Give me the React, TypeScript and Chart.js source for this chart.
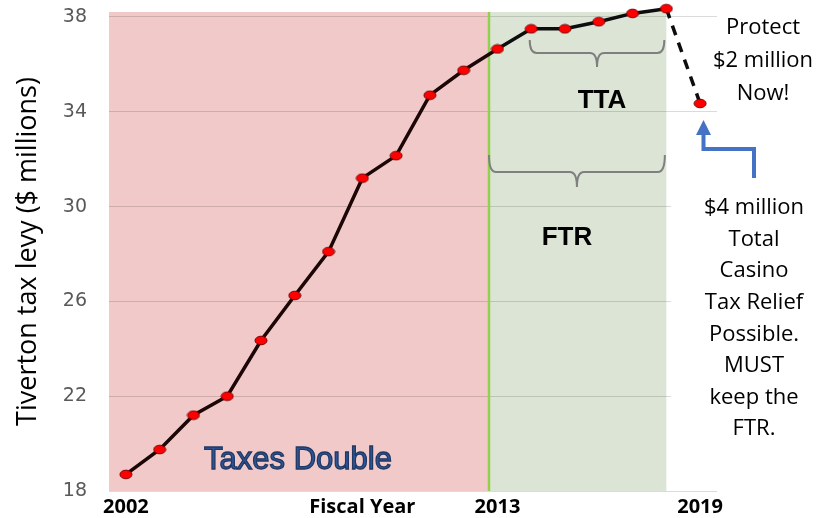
import React, { useEffect, useRef } from 'react';
import { Chart, registerables } from 'chart.js';

Chart.register(...registerables);

const years = ['2002', '2003', '2004', '2005', '2006', '2007', '2008', '2009', '2010', '2011', '2012', '2013', '2014', '2015', '2016', '2017', '2018', '2019'];
const levy = [18.7, 19.75, 21.2, 22.0, 24.35, 26.25, 28.1, 31.2, 32.15, 34.7, 35.75, 36.65, 37.5, 37.5, 37.8, 38.15, 38.35, 34.35];
const xTickLabels = ['2002', '', '', '', '', '', '', 'Fiscal Year', '', '', '', '2013', '', '', '', '', '', '2019'];
const yTicks = [18, 22, 26, 30, 34, 38];
const yMin = 18;
const yMax = 38.21;
const ftrStart = 10.75;
const ftrEnd = 16;
const ttaStart = 12;
const protectLines = ['Protect', '$2 million', 'Now!'];
const reliefLines = ['$4 million', 'Total', 'Casino', 'Tax Relief', 'Possible.', 'MUST', 'keep the', 'FTR.'];

function drawBrace(ctx: CanvasRenderingContext2D, x0: number, x1: number, yTop: number, yMid: number, yTip: number) {
  const cx = (x0 + x1) / 2;
  const r = 7;
  ctx.beginPath();
  ctx.moveTo(x0, yTop);
  ctx.quadraticCurveTo(x0, yMid, x0 + r, yMid);
  ctx.lineTo(cx - r, yMid);
  ctx.quadraticCurveTo(cx, yMid, cx, yTip);
  ctx.quadraticCurveTo(cx, yMid, cx + r, yMid);
  ctx.lineTo(x1 - r, yMid);
  ctx.quadraticCurveTo(x1, yMid, x1, yTop);
  ctx.stroke();
}

const overlay = {
  id: 'overlay',
  beforeDraw(chart: any) {
    const { ctx, chartArea, scales } = chart;
    const x = scales.x;
    const xb = x.getPixelForValue(ftrStart);
    const xe = x.getPixelForValue(ftrEnd);
    ctx.save();
    ctx.fillStyle = '#f1c9c9';
    ctx.fillRect(chartArea.left, chartArea.top, xb - chartArea.left, chartArea.bottom - chartArea.top);
    ctx.fillStyle = '#dbe4d5';
    ctx.fillRect(xb, chartArea.top, xe - xb, chartArea.bottom - chartArea.top);
    ctx.restore();
  },
  beforeDatasetsDraw(chart: any) {
    const { ctx, chartArea, scales } = chart;
    const x = scales.x;
    const xb = x.getPixelForValue(ftrStart);
    ctx.save();
    ctx.fillStyle = '#ffffff';
    const wx = x.getPixelForValue(16.14);
    ctx.fillRect(wx, 150, chartArea.right + 2 - wx, 335);
    ctx.strokeStyle = '#92d050';
    ctx.lineWidth = 2.5;
    ctx.beginPath();
    ctx.moveTo(xb, chartArea.top);
    ctx.lineTo(xb, chartArea.bottom);
    ctx.stroke();
    ctx.restore();
  },
  afterDraw(chart: any) {
    const { ctx, scales } = chart;
    const x = scales.x;
    ctx.save();
    // braces
    ctx.strokeStyle = '#7f7f7f';
    ctx.lineWidth = 2;
    drawBrace(ctx, x.getPixelForValue(ttaStart) - 1.5, x.getPixelForValue(ftrEnd) - 2, 40, 53, 67);
    drawBrace(ctx, x.getPixelForValue(ftrStart), x.getPixelForValue(ftrEnd) - 1.5, 155, 172, 187);
    // bold labels
    ctx.fillStyle = '#000';
    ctx.textAlign = 'center';
    ctx.textBaseline = 'middle';
    ctx.font = 'bold 26px "Liberation Sans", Arial, sans-serif';
    ctx.fillText('TTA', 602, 101);
    ctx.fillText('FTR', 567, 238);
    // Taxes Double
    ctx.font = '31px "Liberation Sans", Arial, sans-serif';
    ctx.textBaseline = 'alphabetic';
    ctx.fillStyle = '#2f5597';
    ctx.strokeStyle = '#1f3864';
    ctx.lineWidth = 1.3;
    ctx.fillText('Taxes Double', 298, 469);
    ctx.strokeText('Taxes Double', 298, 469);
    // right side text
    ctx.fillStyle = '#000';
    ctx.textBaseline = 'middle';
    ctx.font = '22px "Open Sans", sans-serif';
    protectLines.forEach((t, i) => ctx.fillText(t, 763, 28 + i * 33));
    reliefLines.forEach((t, i) => ctx.fillText(t, 754, 208 + i * 31.6));
    // blue arrow
    ctx.strokeStyle = '#4472c4';
    ctx.fillStyle = '#4472c4';
    ctx.lineWidth = 4;
    ctx.lineJoin = 'miter';
    ctx.beginPath();
    ctx.moveTo(754, 178);
    ctx.lineTo(754, 149);
    ctx.lineTo(703.5, 149);
    ctx.lineTo(703.5, 133);
    ctx.stroke();
    ctx.beginPath();
    ctx.moveTo(703.5, 120);
    ctx.lineTo(696, 135);
    ctx.lineTo(711, 135);
    ctx.closePath();
    ctx.fill();
    ctx.restore();
  },
};

export default function App() {
  const ref = useRef<HTMLCanvasElement>(null);
  useEffect(() => {
    document.body.style.margin = '0';
    const dot = document.createElement('canvas');
    dot.width = 14;
    dot.height = 11;
    const d = dot.getContext('2d')!;
    d.beginPath();
    d.ellipse(7, 5.5, 6, 4.3, 0, 0, Math.PI * 2);
    d.fillStyle = '#ff0000';
    d.fill();
    d.lineWidth = 1;
    d.strokeStyle = '#7a0000';
    d.stroke();

    const chart = new Chart(ref.current!, {
      type: 'line',
      data: {
        labels: years,
        datasets: [
          {
            data: levy,
            borderColor: '#1c0606',
            borderWidth: 3.5,
            pointStyle: dot as any,
            pointRadius: 6,
            clip: false as any,
            tension: 0,
            segment: {
              borderDash: (c: any) => (c.p1DataIndex === levy.length - 1 ? [10, 8] : undefined),
              borderColor: (c: any) => (c.p1DataIndex >= 12 ? '#0d0d0d' : undefined),
            },
          },
        ],
      },
      plugins: [overlay],
      options: {
        animation: false,
        responsive: false,
        devicePixelRatio: 1,
        layout: { padding: { top: 12, right: 108, bottom: 0, left: 0 } },
        plugins: { legend: { display: false }, tooltip: { enabled: false } },
        scales: {
          x: {
            type: 'category',
            offset: true,
            grid: { display: false, drawTicks: false },
            border: { display: false },
            ticks: {
              autoSkip: false,
              maxRotation: 0,
              minRotation: 0,
              padding: 4,
              color: '#000',
              font: { family: '"Open Sans", sans-serif', size: 20, weight: 'bold' },
              callback: (_v: any, i: number) => xTickLabels[i],
            },
            afterFit: (s: any) => {
              s.height = 27;
            },
          },
          y: {
            min: yMin,
            max: yMax,
            afterBuildTicks: (s: any) => {
              s.ticks = yTicks.map((v) => ({ value: v }));
            },
            grid: {
              color: 'rgba(0,0,0,0.14)',
              lineWidth: 1,
              drawTicks: true,
              tickLength: 22,
              tickColor: 'rgba(0,0,0,0)',
            },
            border: { display: false },
            ticks: {
              padding: 0,
              color: '#595959',
              font: { family: '"DejaVu Sans", sans-serif', size: 19 },
            },
            title: {
              display: true,
              text: 'Tiverton tax levy ($ millions)',
              color: '#000',
              font: { family: '"Open Sans", sans-serif', size: 27 },
              padding: { top: 12, bottom: 0 },
            },
            afterFit: (s: any) => {
              s.width = 109;
            },
          },
        },
      },
    } as any);
    return () => chart.destroy();
  }, []);
  return (
    <div style={{ width: 825, height: 518 }}>
      <canvas ref={ref} width={825} height={518} style={{ display: 'block' }} />
    </div>
  );
}
